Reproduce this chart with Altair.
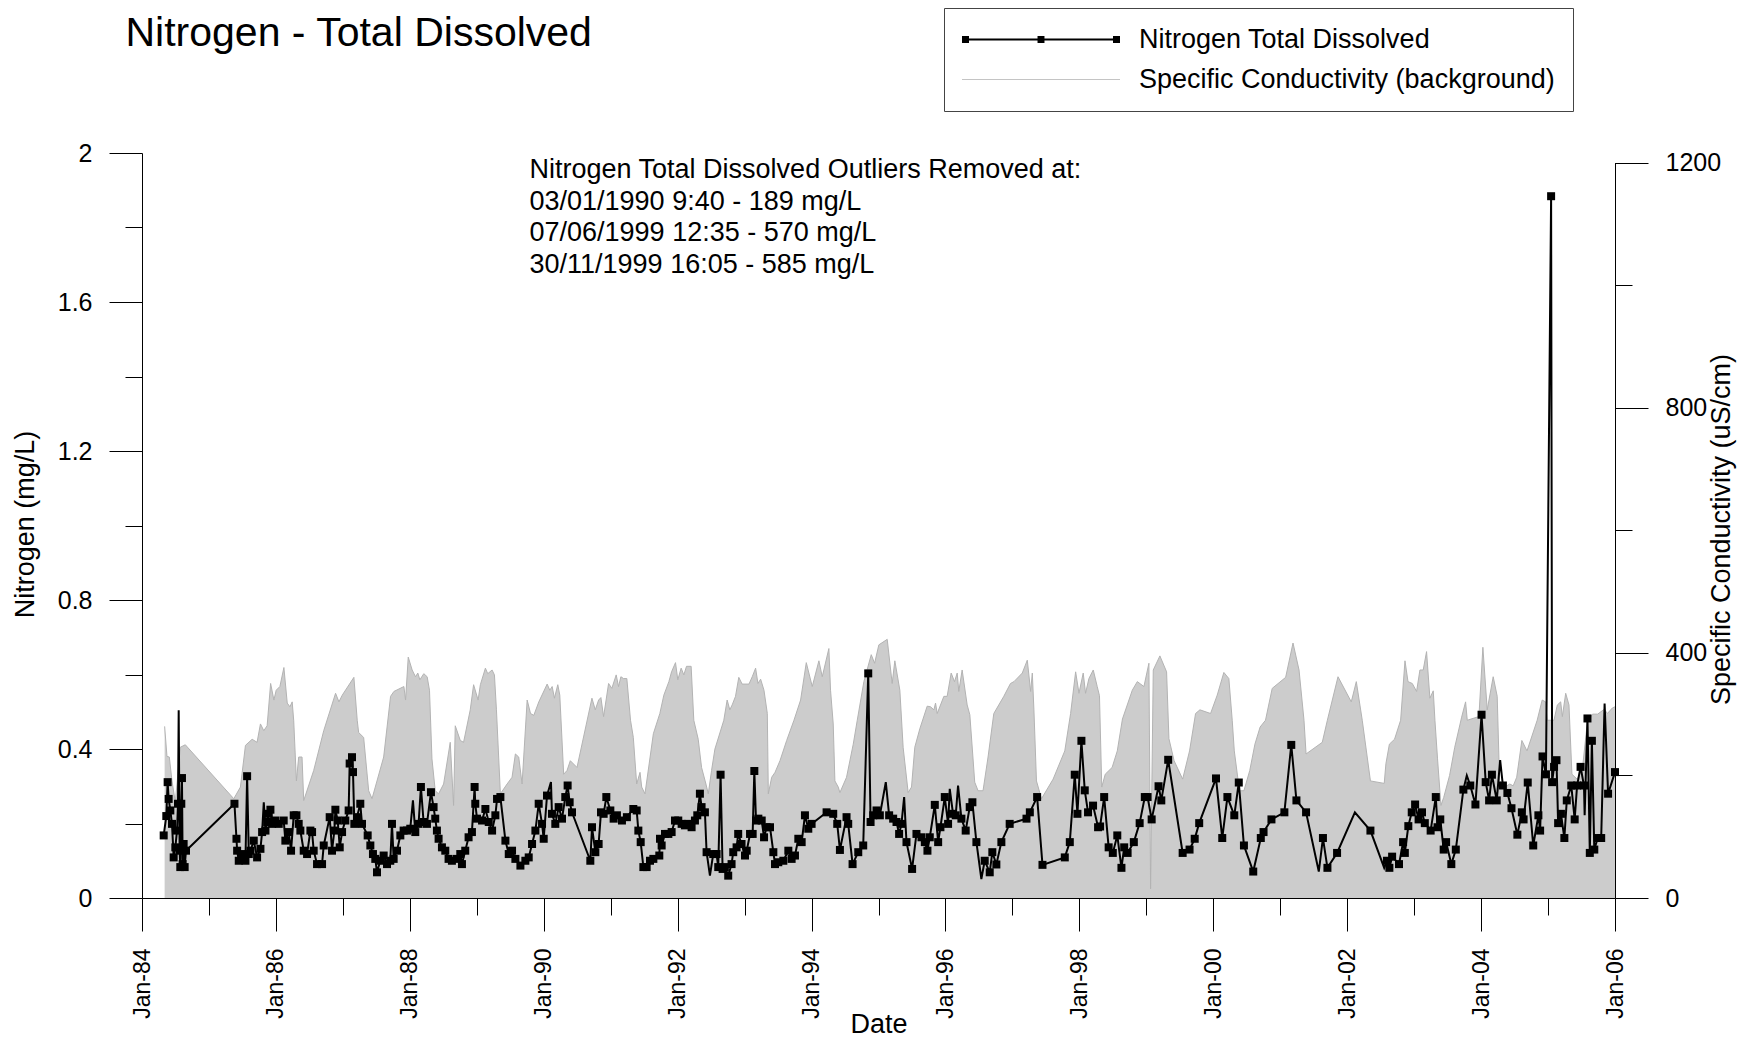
import altair as alt
import pandas as pd

FONT = "Liberation Sans"

# ---------------- data (decimal years) ----------------
n_year = [
    1984.324, 1984.363, 1984.383, 1984.398, 1984.423, 1984.448, 1984.473, 1984.498, 1984.523, 1984.538,
    1984.548, 1984.562, 1984.572, 1984.587, 1984.597, 1984.607, 1984.622, 1984.637, 1984.657,
    1985.379, 1985.409, 1985.419, 1985.443, 1985.493, 1985.543, 1985.568, 1985.593, 1985.618, 1985.667,
    1985.717, 1985.767, 1985.792, 1985.817, 1985.842, 1985.867, 1985.891, 1985.916, 1985.941, 1985.991,
    1986.041, 1986.115, 1986.140, 1986.190, 1986.225, 1986.265, 1986.305, 1986.339, 1986.364, 1986.414,
    1986.464, 1986.514, 1986.539, 1986.563, 1986.613, 1986.688, 1986.713, 1986.802, 1986.837, 1986.872,
    1986.887, 1986.922, 1986.952, 1986.987, 1987.036, 1987.086, 1987.101, 1987.136, 1987.151, 1987.171,
    1987.210, 1987.260, 1987.285, 1987.370, 1987.410, 1987.449, 1987.484, 1987.509, 1987.559, 1987.609,
    1987.659, 1987.708, 1987.733, 1987.758, 1987.808, 1987.858, 1987.907, 1987.957, 1988.007, 1988.047,
    1988.082, 1988.131, 1988.166, 1988.206, 1988.256, 1988.316, 1988.355, 1988.380, 1988.405, 1988.430,
    1988.480, 1988.530, 1988.579, 1988.629, 1988.704, 1988.754, 1988.779, 1988.828, 1988.878, 1988.928,
    1988.968, 1988.978, 1989.002, 1989.077, 1989.127, 1989.177, 1989.227, 1989.276, 1989.301, 1989.351,
    1989.426, 1989.476, 1989.525, 1989.575, 1989.650, 1989.724, 1989.774, 1989.824, 1989.874, 1989.923,
    1989.973, 1989.998, 1990.048, 1990.107, 1990.122, 1990.172, 1990.222, 1990.272, 1990.321, 1990.356,
    1990.386, 1990.421, 1990.695, 1990.720, 1990.770, 1990.819, 1990.854, 1990.894, 1990.934, 1990.994,
    1991.044, 1991.093, 1991.168, 1991.242, 1991.338, 1991.388, 1991.413, 1991.448, 1991.488, 1991.537,
    1991.587, 1991.637, 1991.726, 1991.736, 1991.761, 1991.811, 1991.861, 1991.910, 1991.960, 1992.010,
    1992.060, 1992.109, 1992.159, 1992.209, 1992.259, 1992.294, 1992.333, 1992.358, 1992.408, 1992.433,
    1992.483, 1992.532, 1992.582, 1992.607, 1992.642, 1992.672, 1992.706, 1992.756, 1992.806, 1992.831,
    1992.881, 1992.905, 1992.955, 1993.005, 1993.030, 1993.080, 1993.119, 1993.144, 1993.169, 1993.204,
    1993.254, 1993.289, 1993.328, 1993.378, 1993.428, 1993.453, 1993.502, 1993.577, 1993.652, 1993.701,
    1993.751, 1993.801, 1993.851, 1993.900, 1993.950, 1994.000, 1994.224, 1994.323, 1994.383, 1994.423,
    1994.522, 1994.547, 1994.612, 1994.697, 1994.771, 1994.846, 1994.881, 1994.920, 1994.970, 1995.020,
    1995.109, 1995.159, 1995.219, 1995.269, 1995.308, 1995.343, 1995.383, 1995.418, 1995.502, 1995.567,
    1995.642, 1995.692, 1995.731, 1995.766, 1995.841, 1995.891, 1995.925, 1995.990, 1996.040, 1996.065,
    1996.114, 1996.154, 1996.189, 1996.239, 1996.303, 1996.363, 1996.403, 1996.463, 1996.537, 1996.587,
    1996.662, 1996.701, 1996.761, 1996.836, 1996.960, 1997.209, 1997.259, 1997.368, 1997.448, 1997.781,
    1997.856, 1997.930, 1997.970, 1998.030, 1998.080, 1998.129, 1998.204, 1998.279, 1998.309, 1998.370,
    1998.437, 1998.499, 1998.566, 1998.628, 1998.669, 1998.720, 1998.813, 1998.900, 1998.977, 1999.019,
    1999.080, 1999.183, 1999.224, 1999.327, 1999.543, 1999.646, 1999.723, 1999.790, 2000.042, 2000.135,
    2000.212, 2000.315, 2000.382, 2000.459, 2000.598, 2000.711, 2000.752, 2000.870, 2001.061, 2001.164,
    2001.241, 2001.385, 2001.575, 2001.637, 2001.704, 2001.848, 2002.115, 2002.347, 2002.553, 2002.594,
    2002.630, 2002.671, 2002.774, 2002.835, 2002.861, 2002.913, 2002.964, 2003.015, 2003.067, 2003.118,
    2003.160, 2003.247, 2003.324, 2003.350, 2003.391, 2003.442, 2003.478, 2003.556, 2003.623, 2003.736,
    2003.787, 2003.839, 2003.916, 2004.008, 2004.070, 2004.121, 2004.163, 2004.235, 2004.286, 2004.327,
    2004.394, 2004.455, 2004.543, 2004.610, 2004.636, 2004.698, 2004.780, 2004.857, 2004.883, 2004.919,
    2004.970, 2005.045, 2005.060, 2005.089, 2005.125, 2005.150, 2005.192, 2005.243, 2005.279, 2005.346,
    2005.397, 2005.433, 2005.485, 2005.536, 2005.546, 2005.588, 2005.623, 2005.654, 2005.690, 2005.742,
    2005.793, 2005.844, 2005.896, 2005.999,
]
n_val = [
    0.168, 0.220, 0.311, 0.266, 0.235, 0.199, 0.109, 0.136, 0.181, 0.253,
    0.504, 0.127, 0.083, 0.253, 0.322, 0.091, 0.145, 0.083, 0.127,
    0.253, 0.159, 0.127, 0.100, 0.118, 0.100, 0.327, 0.118, 0.127, 0.154,
    0.109, 0.132, 0.177, 0.257, 0.181, 0.204, 0.226, 0.237, 0.199, 0.208,
    0.199, 0.208, 0.154, 0.177, 0.127, 0.222, 0.222, 0.199, 0.181, 0.127,
    0.118, 0.181, 0.177, 0.127, 0.091, 0.091, 0.141, 0.217, 0.127, 0.181,
    0.237, 0.208, 0.136, 0.177, 0.208, 0.235, 0.361, 0.378, 0.338, 0.199,
    0.217, 0.253, 0.199, 0.168, 0.141, 0.118, 0.105, 0.069, 0.100, 0.114,
    0.091, 0.100, 0.199, 0.105, 0.127, 0.168, 0.181, 0.181, 0.186, 0.262,
    0.177, 0.199, 0.298, 0.204, 0.199, 0.284, 0.244, 0.213, 0.181, 0.159,
    0.136, 0.127, 0.105, 0.100, 0.105, 0.118, 0.091, 0.127, 0.163, 0.177,
    0.298, 0.253, 0.213, 0.208, 0.239, 0.204, 0.181, 0.222, 0.266, 0.271,
    0.154, 0.118, 0.127, 0.105, 0.087, 0.100, 0.109, 0.145, 0.181, 0.253,
    0.199, 0.159, 0.275, 0.311, 0.226, 0.199, 0.244, 0.213, 0.271, 0.302,
    0.257, 0.230, 0.100, 0.190, 0.123, 0.145, 0.230, 0.226, 0.271, 0.235,
    0.213, 0.222, 0.208, 0.217, 0.239, 0.235, 0.181, 0.150, 0.083, 0.083,
    0.100, 0.105, 0.114, 0.159, 0.141, 0.172, 0.172, 0.177, 0.208, 0.208,
    0.199, 0.195, 0.199, 0.190, 0.208, 0.222, 0.280, 0.244, 0.230, 0.123,
    0.060, 0.118, 0.118, 0.083, 0.331, 0.078, 0.083, 0.060, 0.091, 0.123,
    0.136, 0.172, 0.145, 0.114, 0.127, 0.172, 0.172, 0.341, 0.208, 0.213,
    0.208, 0.163, 0.190, 0.190, 0.123, 0.091, 0.096, 0.100, 0.127, 0.105,
    0.114, 0.159, 0.150, 0.222, 0.186, 0.199, 0.230, 0.226, 0.199, 0.129,
    0.217, 0.199, 0.091, 0.123, 0.141, 0.603, 0.204, 0.222, 0.235, 0.222,
    0.311, 0.222, 0.213, 0.204, 0.172, 0.199, 0.271, 0.150, 0.078, 0.172,
    0.163, 0.150, 0.127, 0.163, 0.250, 0.150, 0.190, 0.271, 0.199, 0.293,
    0.226, 0.222, 0.302, 0.213, 0.181, 0.244, 0.257, 0.150, 0.051, 0.100,
    0.069, 0.123, 0.090, 0.150, 0.199, 0.213, 0.230, 0.271, 0.089, 0.109,
    0.150, 0.331, 0.226, 0.422, 0.289, 0.230, 0.248, 0.190, 0.192, 0.271,
    0.136, 0.121, 0.168, 0.081, 0.136, 0.121, 0.150, 0.201, 0.271, 0.271,
    0.211, 0.300, 0.262, 0.371, 0.121, 0.130, 0.159, 0.201, 0.321, 0.161,
    0.271, 0.222, 0.310, 0.141, 0.071, 0.161, 0.177, 0.211, 0.230, 0.411,
    0.262, 0.230, 0.071, 0.161, 0.081, 0.121, 0.230, 0.181, 0.081, 0.100,
    0.081, 0.111, 0.091, 0.150, 0.121, 0.193, 0.230, 0.251, 0.211, 0.230,
    0.201, 0.181, 0.271, 0.190, 0.211, 0.130, 0.150, 0.091, 0.130, 0.291,
    0.329, 0.302, 0.251, 0.492, 0.311, 0.262, 0.331, 0.262, 0.370, 0.302,
    0.282, 0.241, 0.170, 0.230, 0.211, 0.310, 0.141, 0.222, 0.181, 0.380,
    0.332, 1.884, 0.311, 0.352, 0.370, 0.201, 0.226, 0.161, 0.262, 0.302,
    0.211, 0.302, 0.352, 0.302, 0.222, 0.482, 0.121, 0.422, 0.130, 0.161,
    0.161, 0.522, 0.280, 0.338,
]
# samples drawn as plain line vertices (no square marker)
n_unmarked = [1984.548, 1985.817, 1988.047, 1990.107, 1992.483, 1995.109, 1995.383,
              1996.065, 1996.189, 1996.537, 2001.575, 2002.115, 2002.553, 2003.787,
              2004.286, 2005.546, 2005.844]

c_year = [
    1984.338, 1984.373, 1984.408, 1984.448, 1984.498, 1984.572, 1984.647, 1985.369, 1985.468, 1985.543,
    1985.643, 1985.717, 1985.767, 1985.817, 1985.867, 1985.919, 1985.968, 1986.003, 1986.058, 1986.118,
    1986.168, 1986.208, 1986.242, 1986.265, 1986.305, 1986.339, 1986.389, 1986.414, 1986.563, 1986.713,
    1986.890, 1986.940, 1986.990, 1987.164, 1987.214, 1987.235, 1987.310, 1987.385, 1987.435, 1987.609,
    1987.712, 1987.762, 1987.911, 1987.936, 1987.976, 1988.035, 1988.085, 1988.120, 1988.150, 1988.209,
    1988.259, 1988.294, 1988.331, 1988.380, 1988.430, 1988.505, 1988.604, 1988.654, 1988.679, 1988.754,
    1988.803, 1988.903, 1988.953, 1989.018, 1989.052, 1989.127, 1989.162, 1989.227, 1989.262, 1989.292,
    1989.351, 1989.451, 1989.525, 1989.575, 1989.625, 1989.675, 1989.751, 1989.801, 1989.850, 1989.925,
    1990.050, 1990.090, 1990.125, 1990.159, 1990.209, 1990.239, 1990.297, 1990.347, 1990.396, 1990.496,
    1990.719, 1990.769, 1990.819, 1990.853, 1990.893, 1990.968, 1991.017, 1991.082, 1991.117, 1991.152,
    1991.192, 1991.241, 1991.296, 1991.338, 1991.388, 1991.438, 1991.463, 1991.512, 1991.637, 1991.734,
    1991.794, 1991.869, 1991.909, 1991.968, 1992.003, 1992.053, 1992.093, 1992.133, 1992.202, 1992.242,
    1992.308, 1992.358, 1992.423, 1992.458, 1992.507, 1992.557, 1992.690, 1992.740, 1992.780, 1992.815,
    1992.865, 1992.914, 1992.964, 1993.064, 1993.113, 1993.163, 1993.198, 1993.238, 1993.288, 1993.338,
    1993.353, 1993.403, 1993.453, 1993.527, 1993.627, 1993.736, 1993.835, 1993.920, 1994.010, 1994.109,
    1994.159, 1994.258, 1994.283, 1994.323, 1994.348, 1994.398, 1994.423, 1994.522, 1994.622, 1994.682,
    1994.781, 1994.891, 1994.941, 1995.005, 1995.130, 1995.204, 1995.244, 1995.319, 1995.368, 1995.443,
    1995.493, 1995.542, 1995.617, 1995.727, 1995.777, 1995.827, 1995.852, 1995.877, 1995.976, 1996.026,
    1996.086, 1996.136, 1996.176, 1996.200, 1996.250, 1996.325, 1996.365, 1996.438, 1996.488, 1996.562,
    1996.637, 1996.723, 1996.872, 1996.972, 1997.022, 1997.146, 1997.221, 1997.271, 1997.296, 1997.320,
    1997.358, 1997.433, 1997.607, 1997.781, 1997.868, 1997.943, 1997.993, 1998.057, 1998.092, 1998.142,
    1998.207, 1998.266, 1998.300, 1998.334, 1998.386, 1998.489, 1998.566, 1998.643, 1998.790, 1998.865,
    1998.964, 1999.039, 1999.064, 1999.104, 1999.203, 1999.303, 1999.338, 1999.415, 1999.543, 1999.646,
    1999.736, 1999.801, 1999.960, 2000.060, 2000.159, 2000.234, 2000.284, 2000.315, 2000.392, 2000.459,
    2000.546, 2000.623, 2000.701, 2000.781, 2000.881, 2001.080, 2001.190, 2001.280, 2001.354, 2001.385,
    2001.627, 2001.703, 2001.862, 2002.061, 2002.136, 2002.225, 2002.347, 2002.553, 2002.578, 2002.630,
    2002.707, 2002.798, 2002.863, 2002.908, 2002.972, 2003.037, 2003.087, 2003.136, 2003.186, 2003.236,
    2003.286, 2003.311, 2003.350, 2003.401, 2003.442, 2003.530, 2003.607, 2003.710, 2003.769, 2003.794,
    2003.968, 2004.028, 2004.093, 2004.182, 2004.242, 2004.277, 2004.353, 2004.430, 2004.481, 2004.533,
    2004.610, 2004.687, 2004.839, 2004.914, 2004.964, 2004.989, 2005.088, 2005.138, 2005.188, 2005.213,
    2005.263, 2005.312, 2005.356, 2005.433, 2005.510, 2005.587, 2005.664, 2005.740, 2005.840, 2005.885,
    2005.960, 2006.000,
]
c_val = [
    280, 231, 230, 191, 156, 246, 250, 162, 181, 249,
    259, 254, 284, 273, 281, 350, 323, 339, 345, 376,
    318, 312, 320, 289, 191, 230, 230, 159, 208, 273,
    334, 320, 331, 360, 290, 270, 262, 175, 162, 230,
    329, 337, 345, 323, 393, 372, 361, 367, 356, 366,
    361, 339, 227, 175, 170, 186, 254, 151, 281, 257,
    254, 307, 348, 323, 348, 375, 366, 372, 364, 307,
    170, 186, 197, 235, 230, 186, 323, 301, 298, 320,
    349, 339, 345, 326, 348, 331, 202, 208, 224, 213,
    326, 307, 323, 327, 296, 350, 342, 364, 345, 361,
    358, 358, 290, 262, 186, 205, 181, 170, 268, 301,
    331, 353, 369, 384, 356, 375, 364, 378, 378, 290,
    259, 213, 186, 170, 208, 243, 290, 323, 307, 315,
    329, 360, 349, 349, 361, 375, 350, 357, 339, 301,
    170, 197, 205, 224, 257, 290, 323, 384, 345, 387,
    361, 407, 339, 284, 191, 181, 172, 197, 251, 290,
    353, 397, 383, 413, 422, 350, 387, 339, 246, 172,
    181, 246, 276, 313, 312, 307, 318, 301, 329, 329,
    367, 353, 367, 337, 372, 315, 299, 189, 175, 175,
    230, 301, 329, 350, 353, 367, 388, 337, 367, 307,
    191, 162, 194, 240, 301, 369, 334, 367, 334, 358,
    372, 345, 330, 181, 202, 213, 240, 292, 339, 353,
    345, 383, 15, 372, 395, 369, 260, 224, 194, 240,
    301, 307, 301, 331, 368, 358, 290, 240, 175, 175,
    208, 251, 279, 290, 342, 360, 416, 372, 290, 235,
    254, 290, 361, 320, 353, 290, 191, 187, 219, 251,
    259, 290, 387, 353, 350, 337, 372, 372, 402, 326,
    338, 290, 227, 151, 164, 200, 246, 295, 320, 290,
    296, 409, 307, 361, 329, 191, 181, 186, 183, 197,
    257, 240, 290, 323, 320, 290, 290, 315, 320, 296,
    334, 315, 202, 194, 208, 287, 300, 300, 308, 301,
    310, 312,
]

annot_lines = [
    "Nitrogen Total Dissolved Outliers Removed at:",
    "03/01/1990 9:40 - 189 mg/L",
    "07/06/1999 12:35 - 570 mg/L",
    "30/11/1999 16:05 - 585 mg/L",
]
series_names = ["Nitrogen Total Dissolved", "Specific Conductivity (background)"]
chart_title = "Nitrogen - Total Dissolved"


def to_date(y):
    yr = int(y)
    return pd.Timestamp(year=yr, month=1, day=1) + pd.Timedelta(days=(y - yr) * 365.25)


unmarked = {round(v, 3) for v in n_unmarked}
n_df = pd.DataFrame({
    "date": [to_date(y) for y in n_year],
    "n": n_val,
    "mk": [0 if round(y, 3) in unmarked else 1 for y in n_year],
})
c_df = pd.DataFrame({"date": [to_date(y) for y in c_year], "cond": c_val})
leg_df = pd.DataFrame({"date": [to_date(1990.0)] * 2, "v": [0, 0], "series": series_names})

W, H = 1473, 745

x_enc = alt.X(
    "date:T",
    scale=alt.Scale(domain=[alt.DateTime(year=1984, month=1, date=1),
                            alt.DateTime(year=2006, month=1, date=1)], nice=False),
    axis=alt.Axis(
        values=[alt.DateTime(year=y, month=1, date=1) for y in range(1984, 2007)],
        labelExpr="year(datum.value) % 2 == 0 ? timeFormat(datum.value, '%b-%y') : ''",
        labelAngle=270, labelFont=FONT, labelFontSize=23, labelColor="black",
        labelPadding=17, labelFlush=False, labelOverlap=False,
        tickSize={"condition": {"test": "year(datum.value) % 2 == 0", "value": 33}, "value": 17},
        tickColor="black", domainColor="black", grid=False,
        title="Date", titleFont=FONT, titleFontSize=27, titleFontWeight="normal",
        titleColor="black", titleX=W / 2, titleY=126, titleAlign="center",
        titleBaseline="middle",
    ),
)

left_axis = alt.Axis(
    orient="left",
    values=[0, 0.2, 0.4, 0.6, 0.8, 1.0, 1.2, 1.4, 1.6, 1.8, 2.0],
    labelExpr="round(datum.value*10) % 4 == 0 ? format(datum.value, '~g') : ''",
    labelFont=FONT, labelFontSize=25, labelColor="black", labelPadding=17,
    labelOverlap=False,
    tickSize={"condition": {"test": "round(datum.value*10) % 4 == 0", "value": 33}, "value": 17},
    tickColor="black", domainColor="black", grid=False,
    title="Nitrogen (mg/L)", titleFont=FONT, titleFontSize=27, titleFontWeight="normal",
    titleColor="black", titleAngle=270, titleX=-117, titleY=371,
    titleAlign="center", titleBaseline="middle",
)

right_axis = alt.Axis(
    orient="right",
    values=[0, 200, 400, 600, 800, 1000, 1200],
    labelExpr="datum.value % 400 == 0 ? format(datum.value, 'd') : ''",
    labelFont=FONT, labelFontSize=25, labelColor="black", labelPadding=17,
    labelOverlap=False,
    tickSize={"condition": {"test": "datum.value % 400 == 0", "value": 33}, "value": 17},
    tickColor="black", domainColor="black", grid=False,
    title="Specific Conductivity (uS/cm)", titleFont=FONT, titleFontSize=27,
    titleFontWeight="normal", titleColor="black", titleAngle=270,
    titleX=106, titleY=376, titleAlign="center", titleBaseline="middle",
)

area = alt.Chart(c_df).mark_area(
    color="#cccccc", opacity=1,
    line=alt.OverlayMarkDef(color="#b3b3b3", strokeWidth=1),
).encode(
    x=x_enc,
    y=alt.Y("cond:Q", scale=alt.Scale(domain=[0, 1200], range=[H, H - 735.5], nice=False),
            axis=right_axis),
)

n_line = alt.Chart(n_df).mark_line(color="black", strokeWidth=2).encode(
    x=x_enc,
    y=alt.Y("n:Q", scale=alt.Scale(domain=[0, 2], nice=False), axis=left_axis),
)
n_pts = alt.Chart(n_df).transform_filter("datum.mk == 1").mark_point(
    shape="square", filled=True, color="black", size=64, opacity=1,
).encode(
    x=x_enc,
    y=alt.Y("n:Q", scale=alt.Scale(domain=[0, 2], nice=False), axis=left_axis),
)
nitrogen = alt.layer(n_line, n_pts)

pathA = ("M-1,-0.0127H1V0.0127H-1Z "
         "M-1,-0.044H-0.911V0.044H-1Z "
         "M-0.044,-0.044H0.044V0.044H-0.044Z "
         "M0.911,-0.044H1V0.044H0.911Z")
pathB = "M-1,-0.0065H1V0.0065H-1Z"

leg = alt.Legend(
    orient="none", legendX=802, legendY=-145, direction="vertical", title=None,
    labelFont=FONT, labelFontSize=27, labelColor="black", labelOffset=19,
    labelLimit=1000,
    symbolSize=24964, symbolOpacity=1, symbolStrokeWidth=0, clipHeight=27,
    rowPadding=12, padding=18, strokeColor="#444444", fillColor="white",
    cornerRadius=0,
)
legend_layer = alt.Chart(leg_df).mark_point(filled=True, opacity=0, size=10).encode(
    x=x_enc,
    y=alt.Y("v:Q", axis=None),
    color=alt.Color("series:N", scale=alt.Scale(domain=series_names, range=["#000000", "#c4c4c4"]),
                    legend=leg),
    shape=alt.Shape("series:N", scale=alt.Scale(domain=series_names, range=[pathA, pathB]),
                    legend=leg),
)

one = pd.DataFrame({"k": [0]})
annot = alt.Chart(one).mark_text(
    text=annot_lines, x=387.5, y=4, align="left", baseline="top",
    font=FONT, fontSize=27, lineHeight=31.7, color="black",
)
title_txt = alt.Chart(one).mark_text(
    text=chart_title, x=-16.5, y=-107.5, align="left", baseline="alphabetic",
    font=FONT, fontSize=41, color="black",
)

chart = alt.layer(area, nitrogen, legend_layer, annot, title_txt).resolve_scale(
    y="independent"
).properties(
    width=W, height=H,
    padding={"left": 134, "top": 145, "right": 123, "bottom": 140},
    autosize=alt.AutoSizeParams(type="none"),
).configure_view(strokeWidth=0)

chart.save("out.html", embed_options={"renderer": "svg", "actions": False})
